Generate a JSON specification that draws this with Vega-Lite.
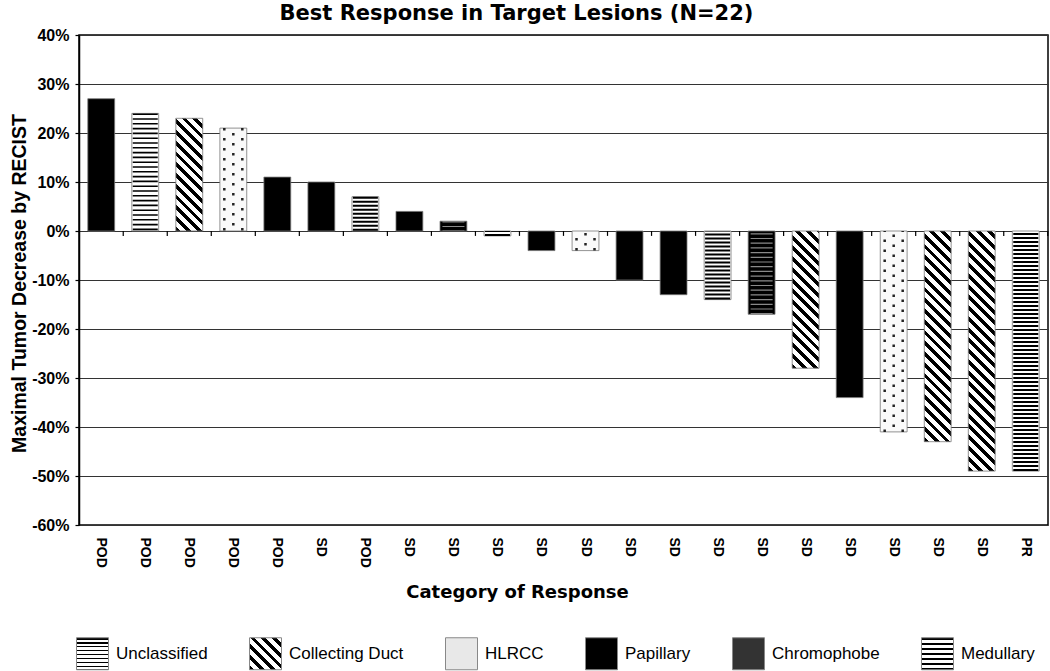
{
  "$schema": "https://vega.github.io/schema/vega-lite/v6.json",
  "autosize": {"type": "none"},
  "padding": {"left": 79, "top": 35, "right": 2, "bottom": 146},
  "width": 969,
  "height": 490,
  "background": "#ffffff",
  "params": [
    {"name": "diagStops", "value": [
      {"offset": 0, "color": "#000"}, {"offset": 0.018, "color": "#000"}, {"offset": 0.018, "color": "#fff"}, {"offset": 0.04, "color": "#fff"},
      {"offset": 0.04, "color": "#000"}, {"offset": 0.058, "color": "#000"}, {"offset": 0.058, "color": "#fff"}, {"offset": 0.08, "color": "#fff"},
      {"offset": 0.08, "color": "#000"}, {"offset": 0.098, "color": "#000"}, {"offset": 0.098, "color": "#fff"}, {"offset": 0.12, "color": "#fff"},
      {"offset": 0.12, "color": "#000"}, {"offset": 0.138, "color": "#000"}, {"offset": 0.138, "color": "#fff"}, {"offset": 0.16, "color": "#fff"},
      {"offset": 0.16, "color": "#000"}, {"offset": 0.178, "color": "#000"}, {"offset": 0.178, "color": "#fff"}, {"offset": 0.2, "color": "#fff"},
      {"offset": 0.2, "color": "#000"}, {"offset": 0.218, "color": "#000"}, {"offset": 0.218, "color": "#fff"}, {"offset": 0.24, "color": "#fff"},
      {"offset": 0.24, "color": "#000"}, {"offset": 0.258, "color": "#000"}, {"offset": 0.258, "color": "#fff"}, {"offset": 0.28, "color": "#fff"},
      {"offset": 0.28, "color": "#000"}, {"offset": 0.298, "color": "#000"}, {"offset": 0.298, "color": "#fff"}, {"offset": 0.32, "color": "#fff"},
      {"offset": 0.32, "color": "#000"}, {"offset": 0.338, "color": "#000"}, {"offset": 0.338, "color": "#fff"}, {"offset": 0.36, "color": "#fff"},
      {"offset": 0.36, "color": "#000"}, {"offset": 0.378, "color": "#000"}, {"offset": 0.378, "color": "#fff"}, {"offset": 0.4, "color": "#fff"},
      {"offset": 0.4, "color": "#000"}, {"offset": 0.418, "color": "#000"}, {"offset": 0.418, "color": "#fff"}, {"offset": 0.44, "color": "#fff"},
      {"offset": 0.44, "color": "#000"}, {"offset": 0.458, "color": "#000"}, {"offset": 0.458, "color": "#fff"}, {"offset": 0.48, "color": "#fff"},
      {"offset": 0.48, "color": "#000"}, {"offset": 0.498, "color": "#000"}, {"offset": 0.498, "color": "#fff"}, {"offset": 0.52, "color": "#fff"},
      {"offset": 0.52, "color": "#000"}, {"offset": 0.538, "color": "#000"}, {"offset": 0.538, "color": "#fff"}, {"offset": 0.56, "color": "#fff"},
      {"offset": 0.56, "color": "#000"}, {"offset": 0.578, "color": "#000"}, {"offset": 0.578, "color": "#fff"}, {"offset": 0.6, "color": "#fff"},
      {"offset": 0.6, "color": "#000"}, {"offset": 0.618, "color": "#000"}, {"offset": 0.618, "color": "#fff"}, {"offset": 0.64, "color": "#fff"},
      {"offset": 0.64, "color": "#000"}, {"offset": 0.658, "color": "#000"}, {"offset": 0.658, "color": "#fff"}, {"offset": 0.68, "color": "#fff"},
      {"offset": 0.68, "color": "#000"}, {"offset": 0.698, "color": "#000"}, {"offset": 0.698, "color": "#fff"}, {"offset": 0.72, "color": "#fff"},
      {"offset": 0.72, "color": "#000"}, {"offset": 0.738, "color": "#000"}, {"offset": 0.738, "color": "#fff"}, {"offset": 0.76, "color": "#fff"},
      {"offset": 0.76, "color": "#000"}, {"offset": 0.778, "color": "#000"}, {"offset": 0.778, "color": "#fff"}, {"offset": 0.8, "color": "#fff"},
      {"offset": 0.8, "color": "#000"}, {"offset": 0.818, "color": "#000"}, {"offset": 0.818, "color": "#fff"}, {"offset": 0.84, "color": "#fff"},
      {"offset": 0.84, "color": "#000"}, {"offset": 0.858, "color": "#000"}, {"offset": 0.858, "color": "#fff"}, {"offset": 0.88, "color": "#fff"},
      {"offset": 0.88, "color": "#000"}, {"offset": 0.898, "color": "#000"}, {"offset": 0.898, "color": "#fff"}, {"offset": 0.92, "color": "#fff"},
      {"offset": 0.92, "color": "#000"}, {"offset": 0.938, "color": "#000"}, {"offset": 0.938, "color": "#fff"}, {"offset": 0.96, "color": "#fff"},
      {"offset": 0.96, "color": "#000"}, {"offset": 0.978, "color": "#000"}, {"offset": 0.978, "color": "#fff"}, {"offset": 1, "color": "#fff"}
    ]}
  ],
  "title": {
    "text": "Best Response in Target Lesions (N=22)",
    "font": "DejaVu Sans",
    "fontSize": 21,
    "fontWeight": "bold",
    "color": "#000",
    "anchor": "middle",
    "frame": "group",
    "dx": -47,
    "dy": 22,
    "offset": 8,
    "baseline": "alphabetic"
  },
  "data": {
    "values": [
      {"id": 1, "response": "POD", "type": "Papillary", "value": 27},
      {"id": 2, "response": "POD", "type": "Medullary", "value": 24},
      {"id": 3, "response": "POD", "type": "Collecting Duct", "value": 23},
      {"id": 4, "response": "POD", "type": "HLRCC", "value": 21},
      {"id": 5, "response": "POD", "type": "Papillary", "value": 11},
      {"id": 6, "response": "SD", "type": "Papillary", "value": 10},
      {"id": 7, "response": "POD", "type": "Unclassified", "value": 7},
      {"id": 8, "response": "SD", "type": "Papillary", "value": 4},
      {"id": 9, "response": "SD", "type": "Chromophobe", "value": 2},
      {"id": 10, "response": "SD", "type": "Unclassified", "value": -1},
      {"id": 11, "response": "SD", "type": "Papillary", "value": -4},
      {"id": 12, "response": "SD", "type": "HLRCC", "value": -4},
      {"id": 13, "response": "SD", "type": "Papillary", "value": -10},
      {"id": 14, "response": "SD", "type": "Papillary", "value": -13},
      {"id": 15, "response": "SD", "type": "Unclassified", "value": -14},
      {"id": 16, "response": "SD", "type": "Chromophobe", "value": -17},
      {"id": 17, "response": "SD", "type": "Collecting Duct", "value": -28},
      {"id": 18, "response": "SD", "type": "Papillary", "value": -34},
      {"id": 19, "response": "SD", "type": "HLRCC", "value": -41},
      {"id": 20, "response": "SD", "type": "Collecting Duct", "value": -43},
      {"id": 21, "response": "SD", "type": "Collecting Duct", "value": -49},
      {"id": 22, "response": "PR", "type": "Unclassified", "value": -49}
    ]
  },
  "encoding": {
    "x": {
      "field": "id",
      "type": "ordinal",
      "scale": {"paddingInner": 0.39, "paddingOuter": 0.2},
      "axis": {
        "title": "Category of Response",
        "titleFont": "DejaVu Sans",
        "titleFontSize": 18,
        "titleFontWeight": "bold",
        "titleColor": "#000",
        "titleX": 438,
        "titleY": 72,
        "titleBaseline": "alphabetic",
        "titleAlign": "center",
        "labelExpr": "['POD','POD','POD','POD','POD','SD','POD','SD','SD','SD','SD','SD','SD','SD','SD','SD','SD','SD','SD','SD','SD','PR'][datum.value - 1]",
        "labelAngle": 90,
        "labelFont": "Liberation Sans",
        "labelFontSize": 14,
        "labelFontWeight": "bold",
        "labelColor": "#000",
        "labelPadding": 12,
        "ticks": false,
        "domain": false,
        "grid": false,
        "encode": {"labels": {"update": {"dy": {"signal": "indexof([1,2,3,4,5,7], datum.value) >= 0 ? 9 : 0"}}}}
      }
    },
    "y": {
      "field": "value",
      "type": "quantitative",
      "scale": {"domain": [-60, 40], "nice": false},
      "axis": {
        "title": "Maximal Tumor Decrease by RECIST",
        "titleFont": "Liberation Sans",
        "titleFontSize": 19.5,
        "titleFontWeight": "bold",
        "titleColor": "#000",
        "titleAngle": -90,
        "titleX": -54,
        "titleY": 248,
        "titleBaseline": "alphabetic",
        "titleAlign": "center",
        "values": [-60, -50, -40, -30, -20, -10, 0, 10, 20, 30, 40],
        "labelExpr": "datum.value + '%'",
        "labelFont": "Liberation Sans",
        "labelFontSize": 16,
        "labelFontWeight": "bold",
        "labelColor": "#000",
        "labelPadding": 6,
        "tickSize": 4,
        "tickColor": "#000",
        "tickWidth": 1.2,
        "domainColor": "#000",
        "domainWidth": 1.5,
        "grid": true,
        "gridColor": "#333",
        "gridWidth": 1.2
      }
    }
  },
  "layer": [
    {
      "mark": {
        "type": "bar",
        "stroke": "#777",
        "strokeWidth": 0.8,
        "fill": {"expr": "datum.type == 'Papillary' ? '#000' : datum.type == 'Chromophobe' ? '#000' : datum.type == 'HLRCC' ? '#fafafa' : datum.type == 'Collecting Duct' ? {gradient: 'linear', x1: 0, y1: 1, x2: 268.7 * bandwidth('x') / (pow(bandwidth('x'), 2) + pow(abs(scale('y', datum.value) - scale('y', 0)), 2)), y2: 1 - 268.7 * abs(scale('y', datum.value) - scale('y', 0)) / (pow(bandwidth('x'), 2) + pow(abs(scale('y', datum.value) - scale('y', 0)), 2)), stops: diagStops} : '#fff'"}
      }
    },
    {
      "transform": [{"filter": "datum.type == 'Unclassified'"}],
      "mark": {"type": "rule", "color": "#000", "strokeWidth": 25, "strokeDash": [2, 2], "strokeCap": "butt"},
      "encoding": {"y2": {"datum": 0}}
    },
    {
      "transform": [{"filter": "datum.type == 'Medullary'"}],
      "mark": {"type": "rule", "color": "#000", "strokeWidth": 25, "strokeDash": [1.6, 3.2], "strokeCap": "butt"},
      "encoding": {"y2": {"datum": 0}}
    },
    {
      "transform": [{"filter": "datum.type == 'Chromophobe'"}],
      "mark": {"type": "rule", "color": "#8a8a8a", "strokeWidth": 22, "strokeDash": [1.2, 3.5], "strokeCap": "butt"},
      "encoding": {"y2": {"datum": 0}}
    },
    {
      "transform": [{"filter": "datum.type == 'HLRCC'"}],
      "mark": {"type": "rule", "color": "#222", "strokeWidth": 2.5, "strokeDash": [2.5, 7.5], "strokeDashOffset": 0, "strokeCap": "butt", "xOffset": -9},
      "encoding": {"y2": {"datum": 0}}
    },
    {
      "transform": [{"filter": "datum.type == 'HLRCC'"}],
      "mark": {"type": "rule", "color": "#222", "strokeWidth": 2.5, "strokeDash": [2.5, 7.5], "strokeDashOffset": 5, "strokeCap": "butt", "xOffset": 0},
      "encoding": {"y2": {"datum": 0}}
    },
    {
      "transform": [{"filter": "datum.type == 'HLRCC'"}],
      "mark": {"type": "rule", "color": "#222", "strokeWidth": 2.5, "strokeDash": [2.5, 7.5], "strokeDashOffset": 0, "strokeCap": "butt", "xOffset": 9},
      "encoding": {"y2": {"datum": 0}}
    },
    {
      "mark": {"type": "rule", "color": "#000", "strokeWidth": 1.2, "xOffset": 22},
      "encoding": {
        "y": {"datum": 0, "type": "quantitative"},
        "y2": {"datum": -1}
      }
    },
    {
      "mark": {"type": "point", "filled": true, "size": 0, "opacity": 0},
      "encoding": {
        "color": {
          "field": "type",
          "type": "nominal",
          "scale": {
            "domain": ["Unclassified", "Collecting Duct", "HLRCC", "Papillary", "Chromophobe", "Medullary"],
            "range": [
              {"expr": "{gradient: 'linear', x1: 0, y1: 0, x2: 0, y2: 3.1, stops: diagStops}"},
              {"expr": "{gradient: 'linear', x1: 0, y1: 1, x2: 4.2, y2: -3.2, stops: diagStops}"},
              "#e8e8e8",
              "#000",
              "#333",
              {"expr": "{gradient: 'linear', x1: 0, y1: 0, x2: 0, y2: 3.9, stops: diagStops}"}
            ]
          },
          "legend": {
            "title": null,
            "orient": "none",
            "legendX": -3,
            "legendY": 602,
            "direction": "horizontal",
            "symbolType": "square",
            "symbolSize": 1024,
            "symbolStrokeColor": "#888",
            "symbolStrokeWidth": 1,
            "symbolOpacity": 1,
            "labelFont": "Liberation Sans",
            "labelFontSize": 17,
            "labelColor": "#000",
            "labelOffset": 7,
            "columnPadding": 39,
            "padding": 0
          }
        }
      }
    }
  ],
  "config": {
    "view": {"stroke": "#000", "strokeWidth": 1.5},
    "axis": {"labelFont": "Liberation Sans", "titleFont": "Liberation Sans"}
  }
}
